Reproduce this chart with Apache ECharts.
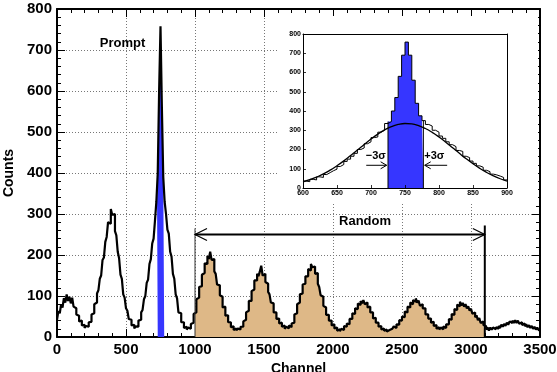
<!DOCTYPE html>
<html><head><meta charset="utf-8">
<script src="https://cdn.jsdelivr.net/npm/echarts@6/dist/echarts.min.js"></script>
<style>html,body{margin:0;padding:0;background:#fff}#c{width:557px;height:372px}</style>
</head><body><div id="c"></div>
<script>
// ---------- data ----------
const mainStart = 0;
const mainBinWidth = 10;
const mainCounts = [
  42, 63, 58, 80, 72, 95, 84, 104, 88, 98,
  82, 96, 74, 70, 55, 52, 38, 40, 28, 30,
  22, 27, 25, 36, 37, 55, 58, 80, 84, 106,
  114, 142, 150, 188, 194, 232, 244, 280, 276, 312,
  298, 300, 258, 248, 208, 192, 152, 142, 104, 96,
  70, 64, 44, 42, 28, 30, 21, 26, 25, 40,
  42, 60, 66, 92, 100, 132, 140, 178, 190, 228,
  240, 284, 330, 400, 600, 758, 560, 390, 330, 300,
  262, 252, 208, 196, 154, 142, 104, 94, 60, 58,
  36, 36, 22, 25, 18, 23, 20, 32, 35, 56,
  60, 92, 96, 122, 124, 152, 156, 180, 178, 198,
  190, 208, 188, 190, 160, 154, 128, 126, 102, 98,
  72, 74, 52, 53, 36, 36, 24, 26, 17, 21,
  16, 21, 18, 25, 25, 38, 42, 60, 64, 88,
  88, 112, 116, 138, 138, 154, 148, 160, 174, 150,
  154, 134, 130, 110, 104, 84, 82, 60, 60, 44,
  45, 33, 35, 25, 28, 20, 25, 21, 28, 24,
  33, 35, 55, 58, 80, 84, 104, 106, 128, 130,
  148, 148, 166, 162, 178, 170, 172, 154, 156, 130,
  122, 102, 98, 76, 72, 54, 54, 40, 40, 28,
  31, 21, 23, 15, 19, 14, 20, 17, 27, 25,
  33, 31, 44, 44, 58, 56, 70, 68, 82, 78,
  88, 82, 90, 80, 84, 72, 74, 60, 60, 45,
  47, 35, 35, 25, 27, 18, 21, 15, 18, 13,
  17, 14, 20, 18, 26, 22, 31, 30, 41, 40,
  50, 48, 62, 60, 74, 72, 84, 80, 90, 86,
  94, 84, 89, 76, 80, 70, 70, 55, 55, 45,
  45, 35, 37, 27, 29, 20, 24, 18, 23, 19,
  26, 22, 31, 31, 44, 42, 56, 54, 68, 66,
  79, 75, 86, 77, 83, 74, 80, 70, 75, 64,
  69, 57, 60, 48, 53, 41, 46, 34, 38, 29,
  26, 18, 23, 16, 23, 18, 23, 19, 24, 20,
  27, 22, 30, 25, 32, 27, 35, 30, 38, 34,
  40, 34, 41, 34, 40, 32, 36, 29, 33, 26,
  31, 24, 29, 22, 27, 20, 25, 18, 23, 17
];
const insetStart = 600;
const insetBinWidth = 5;
const insetCounts = [
  36, 33, 45, 42, 58, 55, 70, 80, 90, 98,
  112, 122, 138, 150, 165, 180, 200, 208, 230, 240,
  262, 265, 290, 300, 335, 345, 400, 470, 580, 690,
  758, 690, 560, 440, 375, 350, 330, 322, 300, 290,
  270, 258, 240, 225, 215, 195, 190, 165, 158, 140,
  128, 115, 108, 92, 85, 72, 68, 62, 55, 42
];
const fitX = [600, 610, 620, 630, 640, 650, 660, 670, 680, 690, 700, 710, 720, 730, 740, 750,
              760, 770, 780, 790, 800, 810, 820, 830, 840, 850, 860, 870, 880, 890, 900];
const fitY = [32, 43, 57, 73, 93, 116, 141, 169, 197, 226, 254, 280, 302, 319, 330, 335,
              333, 324, 309, 289, 265, 238, 209, 180, 152, 126, 102, 81, 63, 48, 36];
const randomRange = [1000, 3100];
const promptRange = [725, 777];
const mainXTicks = [0, 3500, 500];
const mainYTicks = [0, 800, 100];
const insetXTicks = [600, 900, 50];
const insetYTicks = [0, 800, 100];

// ---------- helpers ----------
function histPoints(start, bw, counts) {
  const pts = counts.map((c, i) => [start + i * bw, c]);
  pts.push([start + counts.length * bw, counts[counts.length - 1]]);
  return pts;
}
function valueAt(start, bw, counts, x) {
  let i = Math.floor((x - start) / bw);
  i = Math.max(0, Math.min(counts.length - 1, i));
  return counts[i];
}
function fillPoints(start, bw, counts, lo, hi) {
  const pts = [[lo, valueAt(start, bw, counts, lo)]];
  counts.forEach((c, i) => { const e = start + i * bw; if (e > lo && e < hi) pts.push([e, c]); });
  pts.push([hi, valueAt(start, bw, counts, hi - 1e-6)]);
  return pts;
}
const FONT = '"Liberation Sans", Arial, Helvetica, sans-serif';
const TAN = '#deb887', BLUE = '#3636ff';
const plain = v => String(v);

function xAx(grid, range, opts) {
  return Object.assign({
    type: 'value', gridIndex: grid, min: range[0], max: range[1], interval: range[2],
    axisLine: { show: true, onZero: false, lineStyle: { color: '#000', width: 2 } },
    axisTick: { show: true, inside: true, length: 8, lineStyle: { color: '#000', width: 1 } },
    minorTick: { show: true, splitNumber: 5, length: 4, lineStyle: { color: '#000', width: 1 } },
    axisLabel: { show: true, color: '#000', fontFamily: FONT, fontWeight: 'bold', fontSize: 15, margin: 5, hideOverlap: false, formatter: plain },
    splitLine: { show: false }
  }, opts);
}

const chart = echarts.init(document.getElementById('c'), null, { renderer: 'canvas' });
const option = {
  animation: false,
  backgroundColor: '#fff',
  grid: [
    { left: 57, right: 17, top: 9, bottom: 35, containLabel: false, outerBoundsMode: 'none' },
    { left: 303, top: 34, width: 204, height: 154, containLabel: false, outerBoundsMode: 'none' }
  ],
  xAxis: [
    xAx(0, mainXTicks, {
      name: 'Channel', nameLocation: 'middle', nameGap: 17,
      nameTextStyle: { color: '#000', fontFamily: FONT, fontWeight: 'bold', fontSize: 14 },
      splitLine: { show: true, lineStyle: { color: '#777', type: [1, 2], width: 1 } }
    }),
    xAx(0, mainXTicks, { position: 'top', axisLabel: { show: false } }),
    xAx(1, insetXTicks, {
      z: 30,
      axisLine: { show: true, onZero: false, lineStyle: { color: '#000', width: 1 } },
      axisTick: { show: true, inside: true, length: 3, lineStyle: { color: '#000', width: 0.8 } },
      minorTick: { show: false },
      axisLabel: { show: true, color: '#000', fontFamily: FONT, fontWeight: 'bold', fontSize: 7, margin: 2, hideOverlap: false, formatter: plain }
    }),
    xAx(1, insetXTicks, {
      z: 30, position: 'top',
      axisLine: { show: true, onZero: false, lineStyle: { color: '#000', width: 1 } },
      axisTick: { show: false }, minorTick: { show: false }, axisLabel: { show: false }
    })
  ],
  yAxis: [
    xAx(0, mainYTicks, {
      name: 'Counts', nameLocation: 'middle', nameGap: 37, nameRotate: 90,
      nameTextStyle: { color: '#000', fontFamily: FONT, fontWeight: 'bold', fontSize: 14 },
      splitLine: { show: true, lineStyle: { color: '#777', type: [1, 2], width: 1 } }
    }),
    xAx(0, mainYTicks, { position: 'right', axisLabel: { show: false } }),
    xAx(1, insetYTicks, {
      z: 30,
      axisLine: { show: true, onZero: false, lineStyle: { color: '#000', width: 1 } },
      axisTick: { show: true, inside: true, length: 3, lineStyle: { color: '#000', width: 0.8 } },
      minorTick: { show: false },
      axisLabel: { show: true, color: '#000', fontFamily: FONT, fontWeight: 'bold', fontSize: 7, margin: 2, hideOverlap: false, formatter: plain }
    }),
    xAx(1, insetYTicks, {
      z: 30, position: 'right',
      axisLine: { show: true, onZero: false, lineStyle: { color: '#000', width: 1 } },
      axisTick: { show: false }, minorTick: { show: false }, axisLabel: { show: false }
    })
  ],
  series: [
    { type: 'line', xAxisIndex: 0, yAxisIndex: 0, step: 'end', symbol: 'none', z: 1,
      data: fillPoints(mainStart, mainBinWidth, mainCounts, randomRange[0], randomRange[1]),
      lineStyle: { width: 0, opacity: 0 }, areaStyle: { color: TAN, opacity: 1 } },
    { type: 'line', xAxisIndex: 0, yAxisIndex: 0, step: 'end', symbol: 'none', z: 1,
      data: fillPoints(mainStart, mainBinWidth, mainCounts, promptRange[0], promptRange[1]),
      lineStyle: { width: 0, opacity: 0 }, areaStyle: { color: BLUE, opacity: 1 } },
    { type: 'line', xAxisIndex: 0, yAxisIndex: 0, step: 'end', symbol: 'none', z: 3,
      data: histPoints(mainStart, mainBinWidth, mainCounts),
      lineStyle: { color: '#000', width: 2.2 } },
    { type: 'line', xAxisIndex: 2, yAxisIndex: 2, step: 'end', symbol: 'none', z: 25,
      data: fillPoints(insetStart, insetBinWidth, insetCounts, promptRange[0], promptRange[1]),
      lineStyle: { width: 0, opacity: 0 }, areaStyle: { color: BLUE, opacity: 1 } },
    { type: 'line', xAxisIndex: 2, yAxisIndex: 2, step: 'end', symbol: 'none', z: 26,
      data: histPoints(insetStart, insetBinWidth, insetCounts),
      lineStyle: { color: '#000', width: 1 } },
    { type: 'line', xAxisIndex: 2, yAxisIndex: 2, smooth: true, symbol: 'none', z: 27,
      data: fitX.map((x, i) => [x, fitY[i]]),
      lineStyle: { color: '#000', width: 1.3 } },
    { type: 'line', xAxisIndex: 2, yAxisIndex: 2, symbol: 'none', z: 27,
      data: [[promptRange[0], 0], [promptRange[0], valueAt(insetStart, insetBinWidth, insetCounts, promptRange[0])]],
      lineStyle: { color: '#000', width: 1 } },
    { type: 'line', xAxisIndex: 2, yAxisIndex: 2, symbol: 'none', z: 27,
      data: [[promptRange[1], 0], [promptRange[1], valueAt(insetStart, insetBinWidth, insetCounts, promptRange[1] - 1e-6)]],
      lineStyle: { color: '#000', width: 1 } }
  ]
};
chart.setOption(option);

// ---------- annotations ----------
const P = (x, y) => chart.convertToPixel({ seriesIndex: 2 }, [x, y]);
const Q = (x, y) => chart.convertToPixel({ seriesIndex: 4 }, [x, y]);
const els = [];
// inset pad (white background)
els.push({ type: 'rect', z: 20, shape: { x: 278, y: 16, width: 260, height: 188 }, style: { fill: '#fff' } });

function seg(a, b, w, color, z) {
  els.push({ type: 'line', z: z, shape: { x1: a[0], y1: a[1], x2: b[0], y2: b[1] }, style: { stroke: color, lineWidth: w } });
}
function chevron(tip, dir, len, half, w, z) {
  els.push({ type: 'polyline', z: z, shape: { points: [[tip[0] + dir * len, tip[1] - half], tip, [tip[0] + dir * len, tip[1] + half]] },
    style: { stroke: '#000', lineWidth: w, fill: null } });
}
function txt(pt, s, size, align, z) {
  els.push({ type: 'text', z: z, x: pt[0], y: pt[1], style: { text: s, fill: '#000', font: 'bold ' + size + 'px ' + FONT, align: align, verticalAlign: 'middle' } });
}
// Random range arrow
const arrowY = 250;
const L = P(randomRange[0], arrowY), R = P(randomRange[1], arrowY);
seg(P(randomRange[0], 0), P(randomRange[0], 265), 1, '#333', 5);
seg(P(randomRange[1], 0), P(randomRange[1], 272), 2, '#000', 5);
seg(L, R, 2, '#000', 5);
chevron(L, 1, 12, 6, 1.2, 5);
chevron(R, -1, 12, 6, 1.2, 5);
txt(P(2232, 282), 'Random', 13, 'center', 5);
txt(P(310, 716), 'Prompt', 13, 'left', 5);
// inset sigma arrows
const la = Q(693, 118), lb = Q(723, 118);
seg(la, lb, 1, '#000', 28); chevron(lb, -1, 6, 3.5, 1, 28);
const ra = Q(812, 118), rb = Q(779, 118);
seg(ra, rb, 1, '#000', 28); chevron(rb, 1, 6, 3.5, 1, 28);
txt(Q(707, 168), '\u22123\u03c3', 11, 'center', 28);
txt(Q(793, 168), '+3\u03c3', 11, 'center', 28);

chart.setOption({ graphic: { elements: els } });
</script>
</body></html>
